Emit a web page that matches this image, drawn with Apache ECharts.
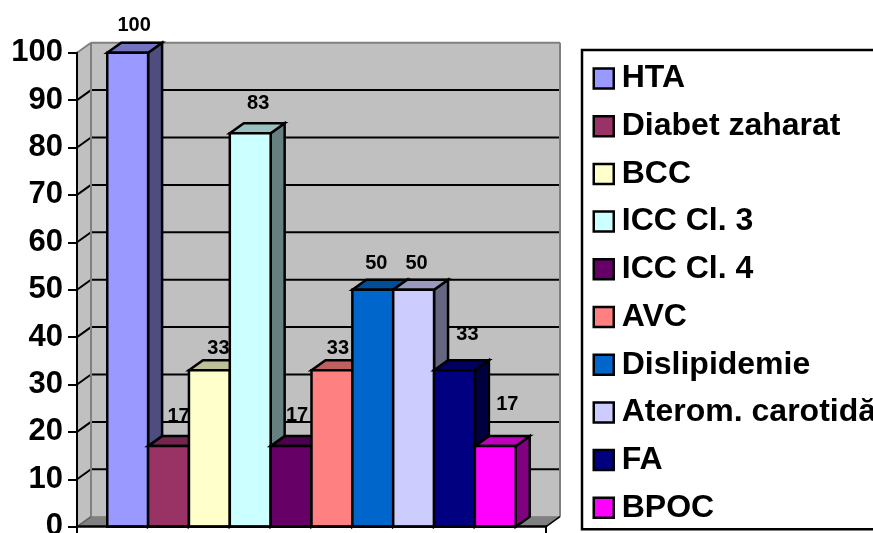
<!DOCTYPE html>
<html>
<head>
<meta charset="utf-8">
<style>html,body{margin:0;padding:0;background:#fff;overflow:hidden}#chart{width:873px;height:533px}</style>
<script src="https://cdn.jsdelivr.net/npm/echarts@6/dist/echarts.min.js"></script>
</head>
<body>
<div id="chart"></div>
<script>
// Comorbidities, percent of patients
const categories = ['HTA', 'Diabet zaharat', 'BCC', 'ICC Cl. 3', 'ICC Cl. 4', 'AVC', 'Dislipidemie', 'Aterom. carotidă', 'FA', 'BPOC'];
const values = [100, 17, 33, 83, 17, 33, 50, 50, 33, 17];
const yTicks = [0, 10, 20, 30, 40, 50, 60, 70, 80, 90, 100];
const colors = ['#9999FF', '#993366', '#FFFFCC', '#CCFFFF', '#660066', '#FF8080', '#0066CC', '#CCCCFF', '#000080', '#FF00FF'];

// Hand-placed value labels, relative to the middle of each bar's top edge
const labelShiftX = [6.5, 10, 9, 8, 6, 6, 3.5, 3, 13, 12];
const labelShiftY = [27.5, 30, 22, 30, 31, 22, 26.5, 26.5, 36, 41.5];

// Oblique projection of the chart's depth, in pixels
const DX = 14;
const DY = -10;
const BAR_SHARE = 0.0871;   // one bar's share of the category band
const FONT = '"Liberation Sans", Arial, sans-serif';

function shade(hex, k) {
  const n = parseInt(hex.slice(1), 16);
  const c = [(n >> 16) & 255, (n >> 8) & 255, n & 255].map(v => Math.round(v * k));
  return 'rgb(' + c.join(',') + ')';
}

function poly(points, fill, stroke, lineWidth) {
  return {
    type: 'polygon',
    shape: { points: points },
    style: { fill: fill, stroke: stroke, lineWidth: lineWidth, lineJoin: 'miter' }
  };
}

function seg(x1, y1, x2, y2, stroke, lineWidth) {
  return {
    type: 'line',
    shape: { x1: x1, y1: y1, x2: x2, y2: y2 },
    style: { stroke: stroke, lineWidth: lineWidth }
  };
}

// Back wall, side wall, floor and the gridlines that run across the walls
function renderWalls(params, api) {
  const cs = params.coordSys;
  const x0 = cs.x, x1 = cs.x + cs.width;
  const yBase = api.coord([0, 0])[1];
  const yTop = api.coord([0, 100])[1];
  const children = [
    poly([[x0, yBase], [x0 + DX, yBase + DY], [x0 + DX, yTop + DY], [x0, yTop]], '#C0C0C0', null, 0),
    poly([[x0 + DX, yBase + DY], [x1 + DX, yBase + DY], [x1 + DX, yTop + DY], [x0 + DX, yTop + DY]], '#C0C0C0', null, 0),
    poly([[x0, yBase], [x1, yBase], [x1 + DX, yBase + DY], [x0 + DX, yBase + DY]], '#808080', null, 0)
  ];
  yTicks.slice(1, -1).forEach(function (t) {
    const y = api.coord([0, t])[1];
    children.push(seg(x0, y, x0 + DX, y + DY, '#000', 2));
    children.push(seg(x0 + DX, y + DY, x1 + DX, y + DY, '#000', 2));
  });
  children.push(seg(x0, yTop, x0 + DX, yTop + DY, '#808080', 2));
  children.push(seg(x0 + DX, yTop + DY, x1 + DX, yTop + DY, '#808080', 2));
  children.push(seg(x0 + DX, yTop + DY, x0 + DX, yBase + DY, '#808080', 2));
  children.push(seg(x1 + DX, yTop + DY, x1 + DX, yBase + DY, '#808080', 2));
  children.push(seg(x0 + DX, yBase + DY, x1 + DX, yBase + DY, '#808080', 1));
  children.push(seg(x0, yBase, x0 + DX, yBase + DY, '#606060', 1.5));
  children.push(seg(x1, yBase, x1 + DX, yBase + DY, '#000', 1.5));
  return { type: 'group', children: children };
}

// One prism per series: side and top faces, front face, then the value label
function barRenderer(i) {
  return function (params, api) {
    const v = api.value(1);
    const top = api.coord([0, v]);
    const base = api.coord([0, 0]);
    const w = api.size([1, 0])[0] * BAR_SHARE;
    const l = top[0] + (i - categories.length / 2) * w;
    const r = l + w;
    const t = top[1], b = base[1];
    const c = colors[i];
    return {
      type: 'group',
      children: [
        poly([[r, b], [r + DX, b + DY], [r + DX, t + DY], [r, t]], shade(c, 0.5), '#000', 2.5),
        poly([[l, t], [r, t], [r + DX, t + DY], [l + DX, t + DY]], shade(c, 0.75), '#000', 2.5),
        poly([[l, b], [r, b], [r, t], [l, t]], c, '#000', 2.5),
        {
          type: 'text',
          style: {
            text: String(v),
            x: (l + r) / 2 + labelShiftX[i],
            y: t - labelShiftY[i],
            align: 'center',
            verticalAlign: 'middle',
            font: 'bold 20px ' + FONT,
            fill: '#000'
          }
        }
      ]
    };
  };
}

const series = [{
  name: 'walls',
  type: 'custom',
  z: 1,
  silent: true,
  data: [[0, 0]],
  encode: { x: 0, y: 1 },
  renderItem: renderWalls
}];

categories.forEach(function (name, i) {
  series.push({
    name: name,
    type: 'custom',
    z: 2 + i,
    silent: true,
    itemStyle: { color: colors[i] },
    data: [[0, values[i]]],
    encode: { x: 0, y: 1 },
    renderItem: barRenderer(i)
  });
});

const chart = echarts.init(document.getElementById('chart'));
chart.setOption({
  animation: false,
  backgroundColor: '#fff',
  tooltip: { show: false },
  grid: { left: 77, width: 469, top: 52.7, height: 474, containLabel: false, outerBoundsMode: 'none' },
  xAxis: {
    type: 'category',
    z: 30,
    data: [''],
    axisLine: { lineStyle: { color: '#000', width: 2.5 } },
    axisTick: { show: true, length: 7, lineStyle: { color: '#000', width: 2 } },
    axisLabel: { show: false },
    splitLine: { show: false }
  },
  yAxis: {
    type: 'value',
    z: 30,
    min: 0,
    max: 100,
    interval: 10,
    axisLine: { show: true, lineStyle: { color: '#000', width: 2 } },
    axisTick: { show: true, length: 9, lineStyle: { color: '#000', width: 2 } },
    axisLabel: { margin: 14, color: '#000', fontFamily: FONT, fontWeight: 'bold', fontSize: 31 },
    splitLine: { show: false }
  },
  legend: {
    data: categories,
    orient: 'vertical',
    left: 582,
    top: 50,
    selectedMode: false,
    icon: 'rect',
    itemWidth: 20,
    itemHeight: 20,
    itemGap: 15.7,
    padding: [12.5, 12, 5.5, 10.5],
    borderColor: '#000',
    borderWidth: 2.5,
    backgroundColor: '#fff',
    itemStyle: { borderColor: '#000', borderWidth: 2.5 },
    textStyle: { color: '#000', fontFamily: FONT, fontWeight: 'bold', fontSize: 32, padding: [0, 0, 0, 3] }
  },
  series: series
});
</script>
</body>
</html>
